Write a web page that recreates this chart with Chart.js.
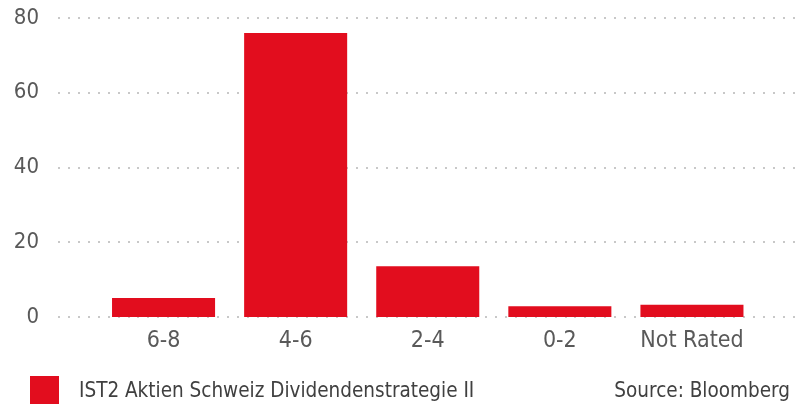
<!DOCTYPE html>
<html>
<head>
<meta charset="utf-8">
<script src="https://cdn.jsdelivr.net/npm/chart.js@4/dist/chart.umd.min.js"></script>
<style>
  html, body { margin: 0; padding: 0; background: #ffffff; }
  #wrap { position: relative; width: 805px; height: 404px; overflow: hidden; }
  #c { position: absolute; left: 0; top: 0; }
  .lg-box { position: absolute; left: 30px; top: 376px; width: 29px; height: 28px; background: #e20d1e; }
  .txt { position: absolute; font-family: 'DejaVu Sans Condensed', 'DejaVu Sans', sans-serif; font-size: 20.5px; line-height: 21px; color: #404040; white-space: nowrap; }
  #lg-text { left: 79px; top: 380px; }
  #source { right: 15px; top: 380px; }
</style>
</head>
<body>
<div id="wrap">
  <canvas id="c" width="805" height="404"></canvas>
  <div class="lg-box"></div>
  <div class="txt" id="lg-text"></div>
  <div class="txt" id="source"></div>
</div>
<script>
const categories = ['6-8', '4-6', '2-4', '0-2', 'Not Rated'];
const seriesName = 'IST2 Aktien Schweiz Dividendenstrategie II';
const seriesValues = [5.1, 76.0, 13.6, 2.9, 3.3];
const yTicks = [0, 20, 40, 60, 80];
const sourceText = 'Source: Bloomberg';

document.getElementById('lg-text').textContent = seriesName;
document.getElementById('source').textContent = sourceText;

const FONT = "'DejaVu Sans Condensed', 'DejaVu Sans', sans-serif";

const dottedGrid = {
  id: 'dottedGrid',
  beforeDatasetsDraw(chart) {
    const ctx = chart.ctx;
    const y = chart.scales.y;
    const x0 = 58, x1 = 793, n = 75;
    ctx.save();
    ctx.fillStyle = '#c8c8c8';
    yTicks.forEach(v => {
      const py = Math.round(y.getPixelForValue(v)) - 1;
      for (let i = 0; i < n; i++) {
        const px = Math.round(x0 + i * (x1 - x0) / (n - 1));
        ctx.fillRect(px, py, 2, 2);
      }
    });
    ctx.restore();
  }
};

new Chart(document.getElementById('c'), {
  type: 'bar',
  data: {
    labels: categories,
    datasets: [{
      label: seriesName,
      data: seriesValues,
      backgroundColor: '#e20d1e',
      borderWidth: 0,
      categoryPercentage: 1.0,
      barPercentage: 0.78
    }]
  },
  options: {
    responsive: false,
    animation: false,
    devicePixelRatio: 1,
    layout: { padding: { left: 0, right: 47, top: 18, bottom: 0 } },
    plugins: { legend: { display: false }, tooltip: { enabled: false } },
    scales: {
      x: {
        grid: { display: false, drawTicks: false },
        border: { display: false },
        ticks: { color: '#595959', font: { family: FONT, size: 23 }, padding: 10, maxRotation: 0 },
        afterFit(axis) { axis.height = 87; }
      },
      y: {
        min: 0, max: 80,
        afterBuildTicks(axis) { axis.ticks = yTicks.map(v => ({ value: v })); },
        grid: { display: false, drawTicks: false },
        border: { display: false },
        ticks: { color: '#595959', font: { family: FONT, size: 22 }, padding: 58.5 },
        afterFit(axis) { axis.width = 97.5; axis.paddingTop = 0; axis.paddingBottom = 0; }
      }
    }
  },
  plugins: [dottedGrid]
});
</script>
</body>
</html>
